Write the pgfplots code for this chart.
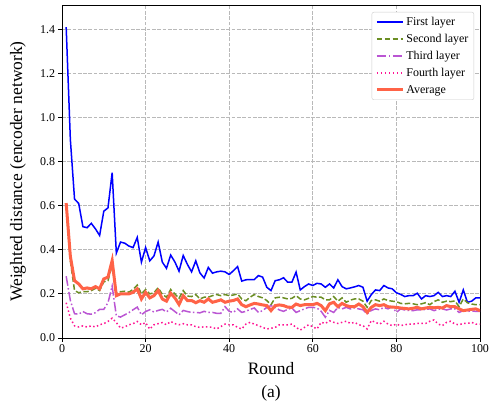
\documentclass[border=0pt]{standalone}
\usepackage{fontspec}
\setmainfont{Liberation Serif}
\usepackage{pgfplots}
\usepackage{pgfplotstable}
\pgfplotsset{compat=1.18}
\definecolor{cblue}{RGB}{0,0,255}
\definecolor{cgreen}{RGB}{107,142,35}
\definecolor{cpurple}{RGB}{186,85,211}
\definecolor{cpink}{RGB}{255,20,147}
\definecolor{corange}{RGB}{255,99,71}
\pgfplotstableread{
r b g p k a
1 1.41 0.60 0.28 0.16 0.612
2 0.90 0.35 0.17 0.09 0.37
3 0.63 0.215 0.11 0.055 0.26
4 0.61 0.205 0.108 0.05 0.245
5 0.505 0.21 0.12 0.055 0.223
6 0.50 0.21 0.11 0.05 0.227
7 0.52 0.215 0.108 0.055 0.223
8 0.495 0.225 0.115 0.05 0.233
9 0.465 0.215 0.13 0.06 0.223
10 0.575 0.255 0.13 0.065 0.268
11 0.59 0.26 0.16 0.075 0.276
12 0.75 0.33 0.235 0.09 0.351
13 0.385 0.205 0.10 0.07 0.192
14 0.435 0.21 0.095 0.045 0.20
15 0.43 0.212 0.105 0.05 0.20
16 0.417 0.208 0.115 0.06 0.20
17 0.41 0.22 0.128 0.065 0.207
18 0.456 0.24 0.14 0.075 0.223
19 0.344 0.20 0.105 0.06 0.177
20 0.41 0.22 0.12 0.07 0.207
21 0.35 0.20 0.128 0.04 0.182
22 0.372 0.205 0.118 0.06 0.192
23 0.435 0.228 0.125 0.065 0.215
24 0.344 0.198 0.13 0.07 0.177
25 0.316 0.185 0.118 0.06 0.167
26 0.376 0.22 0.135 0.075 0.203
27 0.345 0.20 0.12 0.065 0.182
28 0.303 0.18 0.105 0.06 0.152
29 0.374 0.215 0.125 0.065 0.192
30 0.334 0.19 0.12 0.06 0.17
31 0.30 0.188 0.116 0.06 0.17
32 0.35 0.197 0.116 0.051 0.16
33 0.295 0.177 0.114 0.048 0.169
34 0.272 0.185 0.121 0.051 0.162
35 0.32 0.185 0.116 0.051 0.177
36 0.294 0.192 0.116 0.048 0.162
37 0.30 0.197 0.112 0.041 0.167
38 0.303 0.192 0.112 0.052 0.173
39 0.30 0.197 0.142 0.063 0.162
40 0.288 0.192 0.121 0.06 0.167
41 0.305 0.195 0.116 0.06 0.17
42 0.324 0.20 0.132 0.048 0.177
43 0.258 0.177 0.116 0.041 0.151
44 0.264 0.169 0.121 0.063 0.142
45 0.265 0.185 0.13 0.071 0.15
46 0.265 0.197 0.136 0.063 0.157
47 0.283 0.188 0.116 0.056 0.154
48 0.276 0.182 0.124 0.048 0.15
49 0.23 0.17 0.139 0.041 0.147
50 0.215 0.151 0.147 0.044 0.124
51 0.26 0.182 0.139 0.048 0.147
52 0.264 0.185 0.127 0.06 0.15
53 0.273 0.182 0.121 0.06 0.147
54 0.253 0.177 0.13 0.06 0.14
55 0.253 0.18 0.136 0.063 0.139
56 0.299 0.192 0.116 0.048 0.154
57 0.218 0.177 0.124 0.036 0.147
58 0.233 0.173 0.132 0.048 0.151
59 0.245 0.18 0.139 0.06 0.151
60 0.238 0.188 0.139 0.051 0.151
61 0.248 0.185 0.136 0.041 0.157
62 0.245 0.185 0.121 0.071 0.147
63 0.23 0.173 0.094 0.066 0.124
64 0.245 0.173 0.125 0.078 0.155
65 0.227 0.188 0.116 0.071 0.162
66 0.264 0.167 0.139 0.066 0.142
67 0.233 0.182 0.132 0.071 0.157
68 0.223 0.162 0.139 0.076 0.147
69 0.227 0.172 0.132 0.066 0.142
70 0.232 0.177 0.137 0.071 0.142
71 0.238 0.177 0.132 0.06 0.154
72 0.23 0.167 0.128 0.056 0.142
73 0.167 0.139 0.109 0.041 0.116
74 0.197 0.17 0.125 0.079 0.139
75 0.218 0.173 0.132 0.071 0.151
76 0.215 0.167 0.128 0.063 0.147
77 0.238 0.177 0.139 0.076 0.151
78 0.227 0.17 0.132 0.063 0.142
79 0.223 0.167 0.142 0.056 0.14
80 0.205 0.165 0.116 0.063 0.139
81 0.198 0.157 0.132 0.056 0.136
82 0.188 0.155 0.127 0.06 0.134
83 0.192 0.157 0.125 0.063 0.132
84 0.192 0.155 0.124 0.063 0.135
85 0.203 0.151 0.128 0.066 0.139
86 0.177 0.155 0.127 0.066 0.132
87 0.192 0.16 0.13 0.066 0.136
88 0.188 0.151 0.132 0.076 0.139
89 0.192 0.165 0.124 0.082 0.137
90 0.207 0.173 0.13 0.063 0.139
91 0.188 0.162 0.132 0.056 0.136
92 0.192 0.167 0.127 0.071 0.147
93 0.188 0.165 0.132 0.076 0.142
94 0.212 0.168 0.132 0.063 0.142
95 0.162 0.142 0.116 0.06 0.132
96 0.218 0.177 0.124 0.066 0.124
97 0.162 0.16 0.121 0.066 0.127
98 0.167 0.154 0.122 0.071 0.13
99 0.182 0.151 0.121 0.063 0.132
100 0.182 0.151 0.121 0.063 0.124
}\datatable
\begin{document}
\begin{tikzpicture}
\begin{axis}[
  at={(0,0)}, anchor=south west,
  scale only axis, width=418bp, height=333bp,
  xmin=0, xmax=100, ymin=0, ymax=1.51,
  xtick={0,20,40,60,80,100},
  ytick={0,0.2,0.4,0.6,0.8,1.0,1.2,1.4},
  yticklabel style={/pgf/number format/.cd, fixed, fixed zerofill, precision=1},
  /pgf/number format/assume math mode=true,
  tick label style={font=\fontsize{12}{14}\selectfont},
  tick align=outside, tick pos=left,
  major tick length=3.5bp,
  every tick/.style={black, line width=0.8bp},
  axis line style={line width=0.8bp},
  grid=major,
  major grid style={gray!55, line width=0.8bp, dash pattern=on 3.7bp off 1.6bp},
  xlabel={Round}, ylabel={Weighted distance (encoder network)},
  every axis x label/.style={at={(axis description cs:0.5,-0.0931)}, anchor=center, font=\fontsize{17.5}{20}\selectfont},
  every axis y label/.style={at={(axis description cs:-0.1053,0.5)}, anchor=center, rotate=90, font=\fontsize{17.5}{20}\selectfont},
  legend style={at={(0.986,0.979)}, anchor=north east, draw=gray!40, rounded corners=2bp,
    font=\fontsize{12}{14}\selectfont, nodes={inner ysep=3.6bp}, inner xsep=3.5bp, inner ysep=1.5bp},
  legend cell align=left,
  legend image code/.code={\draw[#1] (0bp,0bp) -- (26bp,0bp);},
]
\addplot[cblue, line width=1.5bp] table[x=r, y=b] {\datatable};
\addlegendentry{First layer}
\addplot[cgreen, line width=1.5bp, dash pattern=on 5.5bp off 2.4bp] table[x=r, y=g] {\datatable};
\addlegendentry{Second layer}
\addplot[cpurple, line width=1.5bp, dash pattern=on 9.6bp off 2.4bp on 1.5bp off 2.4bp] table[x=r, y=p] {\datatable};
\addlegendentry{Third layer}
\addplot[cpink, line width=1.5bp, dash pattern=on 1.5bp off 2.5bp] table[x=r, y=k] {\datatable};
\addlegendentry{Fourth layer}
\addplot[corange, line width=3bp] table[x=r, y=a] {\datatable};
\addlegendentry{Average}
\end{axis}
\node[font=\fontsize{17.5}{20}\selectfont] at (209bp,-55.5bp) {(a)};
\pgfresetboundingbox
\useasboundingbox (-62bp,-72bp) rectangle (432bp,338bp);
\end{tikzpicture}
\end{document}
